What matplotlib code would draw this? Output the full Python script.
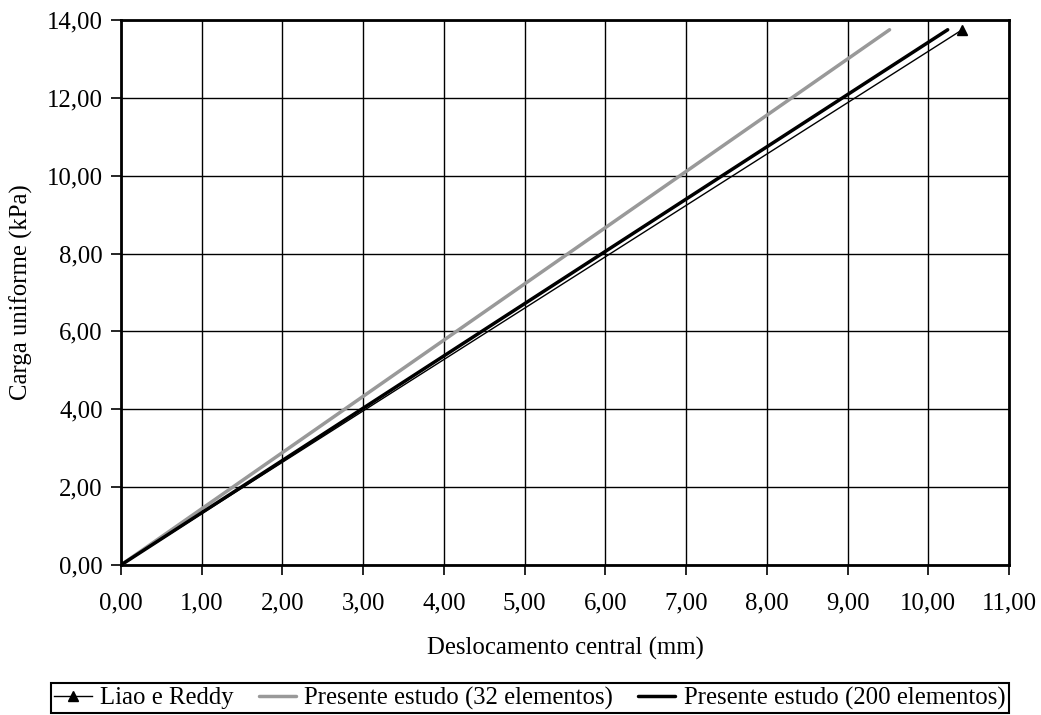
import matplotlib
matplotlib.use("Agg")
import matplotlib.pyplot as plt
import numpy as np

plt.rcParams['font.family'] = ['Liberation Serif', 'DejaVu Serif']

# Data (load in kPa, displacement in mm)
liao_x = [0.0, 10.42]
liao_y = [0.0, 13.75]
est32_x = [0.0, 9.52]
est32_y = [0.0, 13.75]
est200_x = [0.0, 10.24]
est200_y = [0.0, 13.75]

xticks = np.arange(0, 12, 1)
yticks = np.arange(0, 16, 2)

FS = 17.8

fig = plt.figure(figsize=(10.41, 7.15), dpi=100)
ax = fig.add_axes([0.1162, 0.2098, 0.8531, 0.7622])

ax.plot(liao_x, liao_y, color='black', lw=1.0, marker='^', ms=7, label='Liao e Reddy', zorder=4)
ax.plot(est32_x, est32_y, color='#999999', lw=2.5, label='Presente estudo (32 elementos)', zorder=3, solid_capstyle='round')
ax.plot(est200_x, est200_y, color='black', lw=2.5, label='Presente estudo (200 elementos)', zorder=3, solid_capstyle='round')

ax.set_xlim(0, 11)
ax.set_ylim(0, 14)
ax.set_xticks(xticks)
ax.set_yticks(yticks)
ax.set_xticklabels([f"{v:.2f}".replace('.', ',') for v in xticks])
ax.set_yticklabels([f"{v:.2f}".replace('.', ',') for v in yticks])
ax.grid(True, color='black', lw=1.0)
ax.set_axisbelow(True)
for s in ax.spines.values():
    s.set_linewidth(2.0)
ax.tick_params(direction='out', length=7, width=1.2, labelsize=FS, pad=6, colors='black')
ax.tick_params(axis='x', pad=13)

ax.set_xlabel('Deslocamento central (mm)', fontsize=FS, labelpad=16)
ax.set_ylabel('Carga uniforme (kPa)', fontsize=FS, labelpad=10)

leg = fig.legend(loc='upper center', bbox_to_anchor=(0.509, 0.0448), ncol=3, fontsize=FS,
                 frameon=True, fancybox=False, edgecolor='black', framealpha=1,
                 handlelength=1.5, handletextpad=0.35, columnspacing=1.0, borderpad=0.15,
                 borderaxespad=0.0)
leg.get_frame().set_linewidth(1.5)

fig.savefig('out.png', dpi=100)
